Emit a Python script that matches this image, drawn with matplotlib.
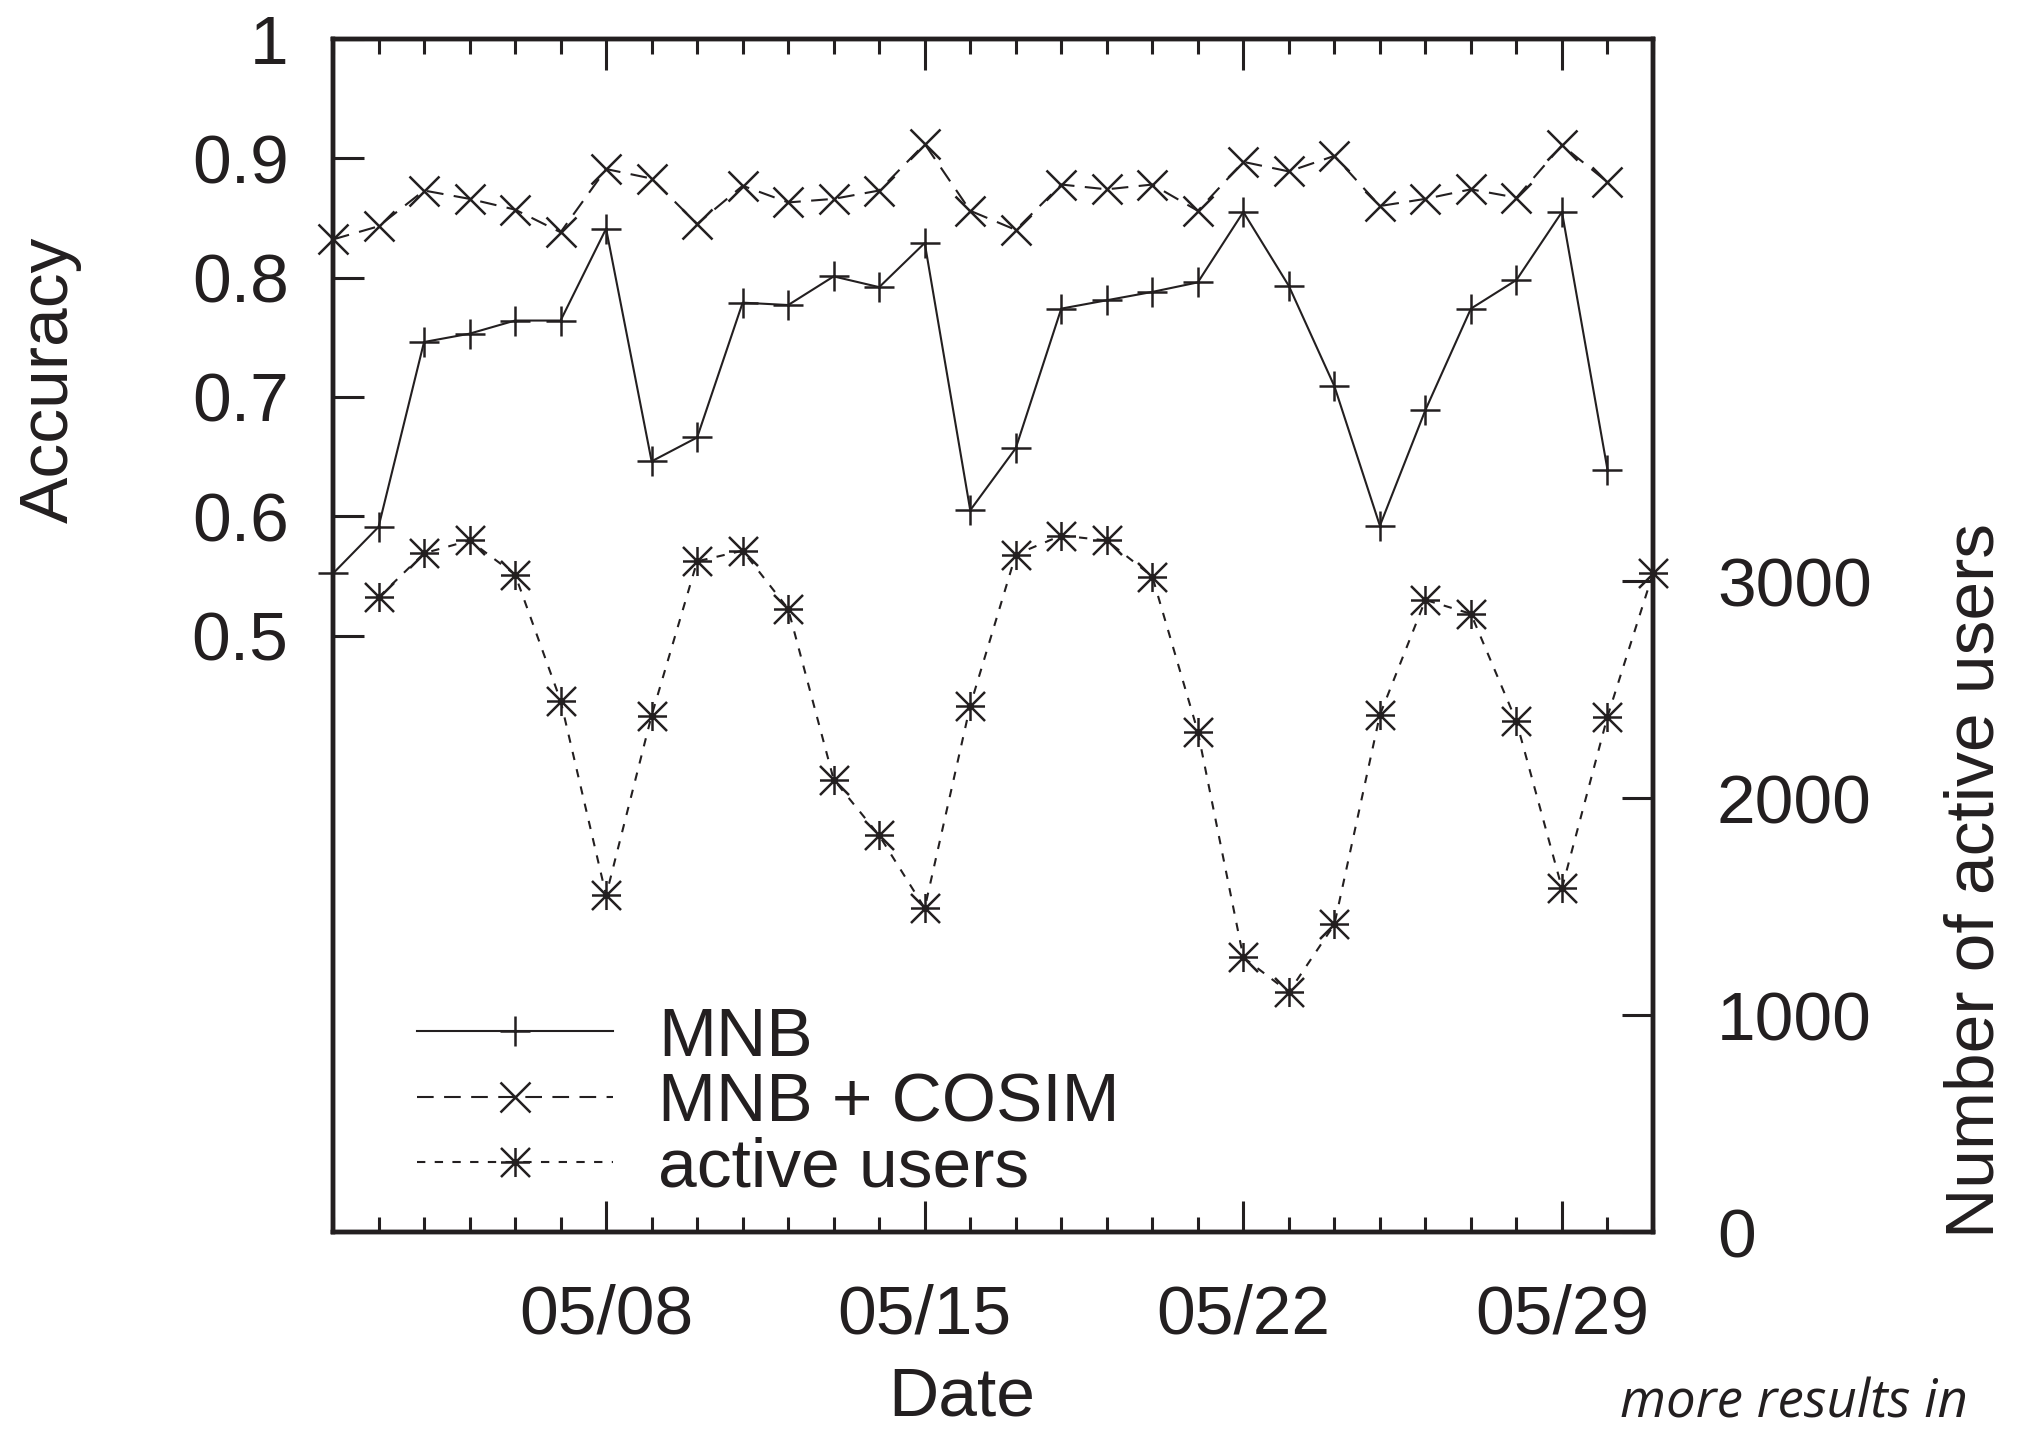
import matplotlib
matplotlib.use("Agg")
import matplotlib.pyplot as plt
import matplotlib.dates as mdates
from matplotlib.path import Path
import pandas as pd

# ---- data ----
acc_dates = pd.date_range("2012-05-02", "2012-05-30", freq="D")
user_dates = pd.date_range("2012-05-03", "2012-05-31", freq="D")

mnb = [0.552, 0.591, 0.746, 0.753, 0.764, 0.764, 0.841, 0.646, 0.666, 0.779,
       0.777, 0.801, 0.792, 0.829, 0.605, 0.657, 0.774, 0.781, 0.788, 0.796,
       0.855, 0.793, 0.709, 0.592, 0.689, 0.774, 0.798, 0.855, 0.639]
mnb_cosim = [0.832, 0.843, 0.873, 0.866, 0.857, 0.838, 0.891, 0.883, 0.845, 0.877,
             0.863, 0.866, 0.873, 0.912, 0.856, 0.840, 0.878, 0.874, 0.878, 0.856,
             0.897, 0.889, 0.902, 0.860, 0.866, 0.874, 0.867, 0.911, 0.880]
active_users = [2926, 3129, 3188, 3031, 2450, 1552, 2381, 3092, 3141, 2873,
                2086, 1828, 1493, 2427, 3123, 3211, 3188, 3022, 2307, 1266,
                1106, 1418, 2384, 2914, 2850, 2354, 1585, 2376, 3037]

acc_ticks = [0.5, 0.6, 0.7, 0.8, 0.9, 1.0]
acc_ticklabels = ["0.5", "0.6", "0.7", "0.8", "0.9", "1"]
user_ticks = [0, 1000, 2000, 3000]
labels = ["MNB", "MNB + COSIM", "active users"]

# ---- style ----
INK = "#231f20"
FONT = ["Liberation Sans", "DejaVu Sans"]
plt.rcParams["font.family"] = FONT
FS = 50

# asterisk marker (+ and x combined)
star = Path([(-1, 0), (1, 0), (0, -1), (0, 1), (-1, -1), (1, 1), (-1, 1), (1, -1)],
            [Path.MOVETO, Path.LINETO] * 4)

W, H = 2023, 1434
fig = plt.figure(figsize=(W / 100, H / 100), dpi=100)
L, R, T, B = 333, 1653, 39, 1232
ax = fig.add_axes([L / W, 1 - B / H, (R - L) / W, (B - T) / H])
ax2 = ax.twinx()

ms = 22
mew = 1.8
lw = 1.5
l1, = ax.plot(acc_dates, mnb, color=INK, lw=lw, ls="-", marker="+", ms=ms, mew=mew,
              clip_on=False, zorder=3)
l2, = ax.plot(acc_dates, mnb_cosim, color=INK, lw=lw, ls=(0, (8, 5)), marker="x",
              ms=ms * 0.95, mew=mew, clip_on=False, zorder=3)
l3, = ax2.plot(user_dates, active_users, color=INK, lw=lw, ls=(0, (4, 4.5)), marker=star,
               ms=ms * 0.95, mew=mew, mfc="none", clip_on=False, zorder=3)

ax.set_xlim(pd.Timestamp("2012-05-02"), pd.Timestamp("2012-05-31"))
ax.set_ylim(0, 1)
ax2.set_ylim(0, 5500)

ax.xaxis.set_major_locator(mdates.DayLocator(bymonthday=[8, 15, 22, 29]))
ax.xaxis.set_minor_locator(mdates.DayLocator())
ax.xaxis.set_major_formatter(mdates.DateFormatter("%m/%d"))
ax.set_yticks(acc_ticks)
ax.set_yticklabels(acc_ticklabels)
ax2.set_yticks(user_ticks)

spine_w = 3.2
for a in (ax, ax2):
    for s in a.spines.values():
        s.set_linewidth(spine_w)
        s.set_color(INK)

ax.tick_params(axis="x", which="major", direction="in", length=22, width=2.2,
               top=True, bottom=True, color=INK, labelsize=FS, pad=37, labelcolor=INK)
ax.tick_params(axis="x", which="minor", direction="in", length=11, width=2.2,
               top=True, bottom=True, color=INK)
ax.tick_params(axis="y", which="both", direction="in", length=22, width=2.2,
               left=True, right=False, color=INK, labelsize=FS, pad=32, labelcolor=INK)
ax2.tick_params(axis="y", which="both", direction="in", length=22, width=2.2,
                right=True, left=False, color=INK, labelsize=FS, pad=46, labelcolor=INK)

fig.text(50 / W, 1 - 380 / H, "Accuracy", rotation=90, ha="center", va="center",
         fontsize=FS, color=INK)
fig.text(1976 / W, 1 - 880 / H, "Number of active users", rotation=90, ha="center",
         va="center", fontsize=FS, color=INK)
fig.text(962 / W, 1 - 1398 / H, "Date", ha="center", va="center", fontsize=FS, color=INK)

leg = ax.legend([l1, l2, l3], labels, loc="center left",
                bbox_to_anchor=((417 - L) / (R - L), (B - 1103) / (B - T)),
                frameon=False, fontsize=FS, handlelength=2.82, handletextpad=0.65,
                labelspacing=0.02, borderpad=0, borderaxespad=0, numpoints=1)
for t in leg.get_texts():
    t.set_color(INK)

fig.text(1620 / W, 3 / H, "more results in", ha="left", va="bottom",
         fontsize=38, style="italic", family=["Open Sans", "DejaVu Sans"], color=INK)

fig.savefig("out.png", dpi=100, facecolor="white")
